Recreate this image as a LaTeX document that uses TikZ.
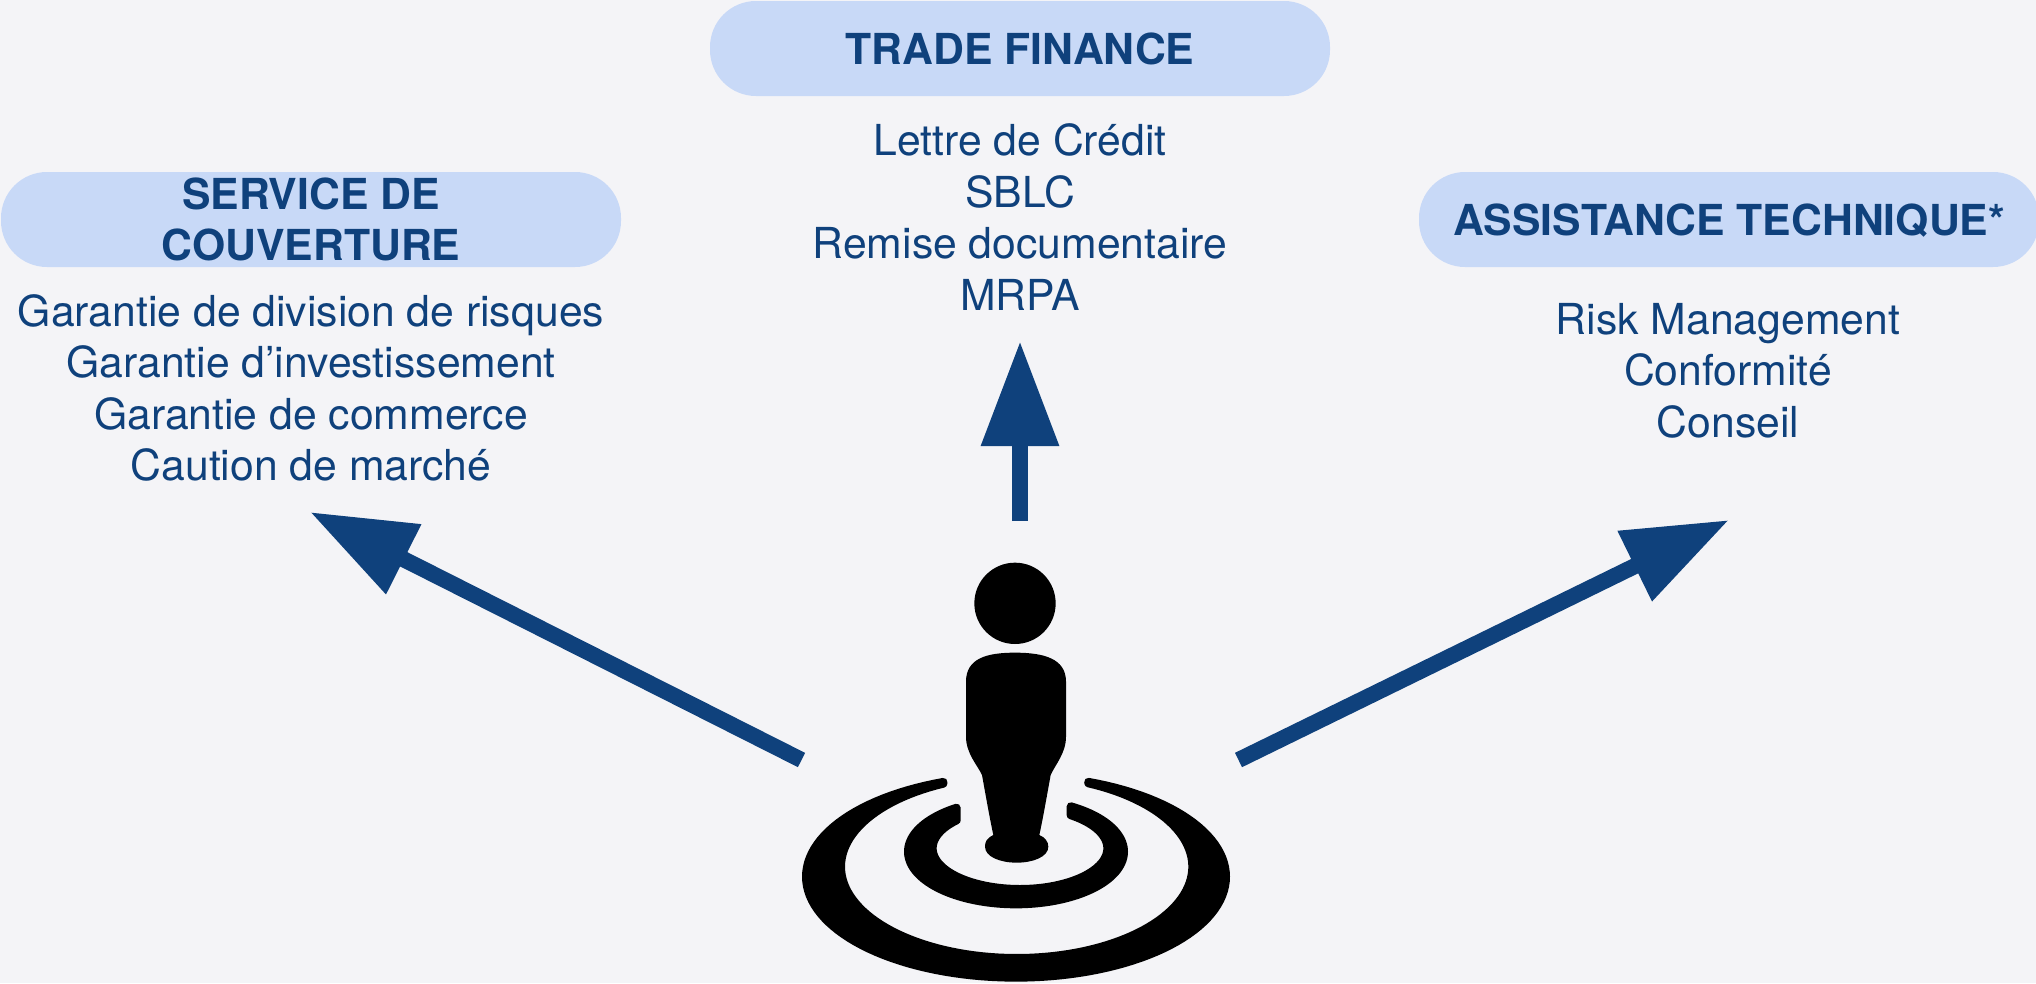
\documentclass[tikz,border=0pt]{standalone}
\usepackage{fontspec}
\setmainfont{TeX Gyre Heros}
\usetikzlibrary{arrows.meta}
\definecolor{bgc}{HTML}{F4F4F7}
\definecolor{pillc}{HTML}{C8D9F7}
\definecolor{navy}{HTML}{0F417C}
\tikzset{
  x=1pt,y=-1pt,
  pill/.style={fill=pillc,rounded corners=46pt,minimum height=95pt,inner sep=0pt,text=navy,align=center,
    font=\fontsize{42.7}{51}\selectfont\bfseries},
  listing/.style={text=navy,align=center,inner sep=0pt,font=\fontsize{42.7}{51.5}\selectfont},
  bigarrow/.style={draw=navy,line width=16pt,-{Triangle[length=105pt,width=74pt]},shorten >=0pt},
}
\begin{document}
\begin{tikzpicture}
\useasboundingbox (0,0) rectangle (2036,983);
\fill[bgc] (0,0) rectangle (2036,983);
% pills
\node[pill,minimum width=620pt,text depth=0pt] (trade) at (1020,48.5) {TRADE FINANCE};
\node[pill,minimum width=620pt] (service) at (311,219.5) {SERVICE DE\\COUVERTURE};
\node[pill,minimum width=620pt,text depth=0pt] (assist) at (1729,219.5) {ASSISTANCE TECHNIQUE*};
% lists
\node[listing] (l1) at (311,388) {Garantie de division de risques\\Garantie d’investissement\\Garantie de commerce\\Caution de marché};
\node[listing] (l2) at (1020,217) {Lettre de Crédit\\SBLC\\Remise documentaire\\MRPA};
\node[listing] (l3) at (1728,370.5) {Risk Management\\Conformité\\Conseil};
% arrows
\coordinate (upA) at (1020,521);
\coordinate (upB) at (1020,341);
\coordinate (leftA) at (801.5,760);
\coordinate (leftB) at (310,512);
\coordinate (rightA) at (1238.5,760);
\coordinate (rightB) at (1729,520);
\draw[bigarrow] (upA) -- (upB);
\draw[bigarrow] (leftA) -- (leftB);
\draw[bigarrow] (rightA) -- (rightB);
% person icon
\begin{scope}[shift={(780,540)},x=0.33333pt,y=-0.33333pt]
\fill[black] (705,190) circle[radius=122];
\fill[black,line join=round]
  (705,338) .. controls (620,338) and (558,355) .. (558,425)
  -- (558,590) .. controls (558,640) and (592,675) .. (606,705)
  .. controls (616,760) and (630,840) .. (640,885)
  .. controls (620,895) and (615,905) .. (615,920)
  .. controls (615,950) and (660,968) .. (710,968)
  .. controls (760,968) and (805,950) .. (805,920)
  .. controls (805,905) and (795,892) .. (778,885)
  .. controls (788,840) and (802,760) .. (812,705)
  .. controls (825,675) and (858,640) .. (858,590)
  -- (858,425) .. controls (858,355) and (790,338) .. (705,338) -- cycle;
\fill[black,draw=black,line width=8pt,line join=round]
  plot[domain=249.8:-69.9,samples=120] ({708+630*cos(\x)},{1010+303*sin(\x)})
  -- plot[domain=-65.9:245.3,samples=120] ({710+527*cos(\x)},{980+274*sin(\x)}) -- cycle;
\fill[black,draw=black,line width=8pt,line join=round]
  plot[domain=236.7:-59.6,samples=120] ({708+324*cos(\x)},{935+158*sin(\x)})
  -- plot[domain=-54.5:223.5,samples=120] ({720+262*cos(\x)},{925+122*sin(\x)}) -- cycle;
\end{scope}
\end{tikzpicture}
\end{document}
